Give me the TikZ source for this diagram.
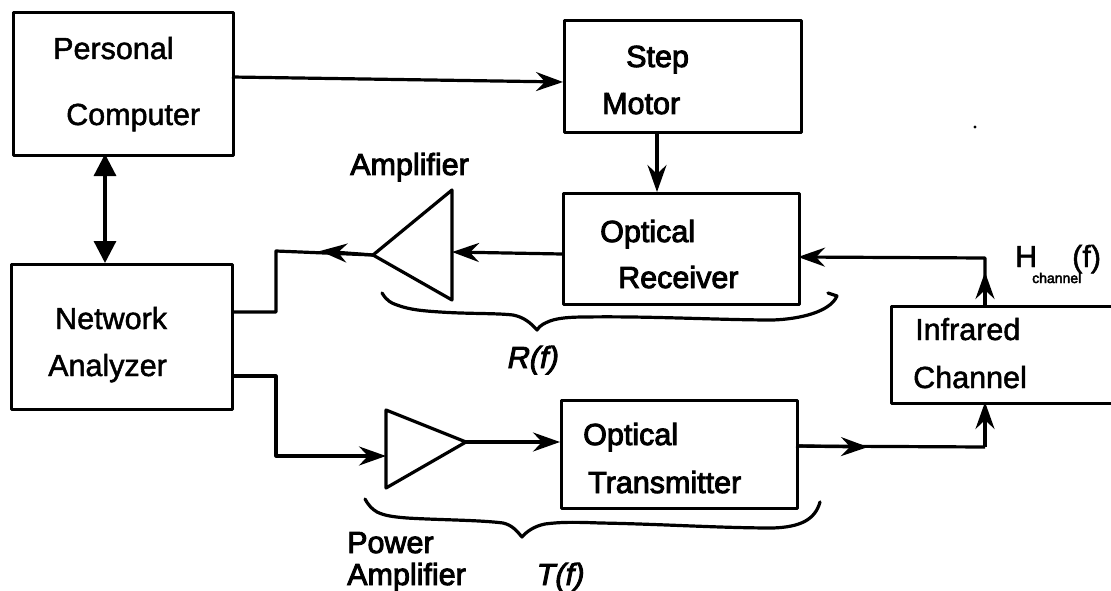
\documentclass[tikz,border=0pt]{standalone}
\usepackage{fontspec}
\setmainfont{Liberation Sans}
\newfontfamily\inkfont[FakeBold=1.6]{Liberation Sans}
\newfontfamily\heavyfont[FakeBold=3]{Liberation Sans}
\newfontfamily\inkital[FakeBold=3,FakeSlant=0.2]{Liberation Sans}
\usetikzlibrary{arrows.meta,positioning}
\tikzset{
  ink/.style={line width=3.2pt,black,line join=round},
  blk/.style={ink,draw,rectangle,inner sep=0pt,anchor=north west},
  lbl/.style={inner sep=0pt,font=\inkfont\fontsize{30.5}{32}\selectfont,anchor=base west},
  hlbl/.style={inner sep=0pt,font=\heavyfont\fontsize{30.5}{32}\selectfont,anchor=base west},
  ilbl/.style={inner sep=0pt,font=\inkital\fontsize{30.5}{32}\selectfont,anchor=base west},
  tip/.style={-{Stealth[length=27pt,width=19pt,inset=9pt]}},
  dbl/.style={{Stealth[length=22pt,width=22pt,inset=0pt]}-{Stealth[length=22pt,width=22pt,inset=0pt]}},
}
\begin{document}
\begin{tikzpicture}[x=1pt,y=-1pt]
\useasboundingbox (0,0) rectangle (1111,591);
% blocks
\node[blk,minimum width=220pt,minimum height=143pt] (pc) at (12,11) {};
\node[blk,minimum width=221pt,minimum height=145pt] (na) at (10,263) {};
\node[blk,minimum width=237pt,minimum height=112pt] (sm) at (563,19) {};
\node[blk,minimum width=236pt,minimum height=111pt] (rx) at (562,192) {};
\node[blk,minimum width=236pt,minimum height=108pt] (tx) at (560,399) {};
\node[blk,minimum width=225pt,minimum height=97pt] (ir) at (890,305) {};
% amplifier triangles
\coordinate (aL) at (373,255); \coordinate (aT) at (452,190); \coordinate (aB) at (452,300);
\coordinate (aIn) at (452,252);
\draw[ink] (aL) -- (aT) -- (aB) -- cycle;
\coordinate (pL) at (386,410); \coordinate (pB) at (386,488); \coordinate (pR) at (466,442);
\coordinate (pIn) at (386,456);
\draw[ink] (pL) -- (pR) -- (pB) -- cycle;
% connectors
\coordinate (pcOut) at (232,77); \coordinate (smIn) at (563,82);
\draw[ink,tip] (pcOut) -- (smIn);
\draw[ink,tip] (657,131) -- (657,192);
\draw[ink,dbl] (105,154) -- (105,263);
\coordinate (rxOut) at (562,254);
\draw[ink,tip] (rxOut) -- (aIn);
\coordinate (m1) at (320,251); \coordinate (c1) at (276,251); \coordinate (naA) at (231,312);
\draw[ink,tip] (aL) -- (m1);
\draw[ink] (aL) -- (c1) -- (c1 |- naA) -- (naA);
\coordinate (naB) at (231,376); \coordinate (c2) at (276,376);
\draw[ink,tip] (naB) -- (c2) -- (c2 |- pIn) -- (pIn);
\coordinate (txIn) at (560,442);
\draw[ink,tip] (pR) -- (txIn);
\coordinate (txOut) at (796,446); \coordinate (m2) at (868,447); \coordinate (c3) at (985,447); \coordinate (irB) at (985,402);
\draw[ink,tip] (txOut) -- (m2);
\draw[ink] (txOut) -- (c3);
\draw[ink,tip] (c3) -- (irB);
\coordinate (irT) at (985,305); \coordinate (m3) at (985,272); \coordinate (c4) at (985,258); \coordinate (rxIn) at (798,257);
\draw[ink,tip] (irT) -- (m3);
\draw[ink,tip] (irT) -- (c4) -- (rxIn);
% braces
\draw[ink,line cap=round] (382,293) .. controls (387,301) and (391,303) .. (397,305)
  .. controls (410,310) and (425,311) .. (440,312)
  .. controls (470,314) and (495,313) .. (513,315) .. controls (523,317) and (530,322) .. (537,330)
  .. controls (540,325) and (545,323) .. (550,321) .. controls (558,318) and (570,317) .. (585,317)
  .. controls (650,316) and (720,320) .. (773,320)
  .. controls (800,319) and (830,312) .. (837,296) -- (828,293);
\draw[ink,line cap=round] (365,499) .. controls (369,506) and (372,509) .. (377,512)
  .. controls (385,516) and (395,517) .. (407,518)
  .. controls (440,520) and (480,520) .. (503,523) .. controls (512,525) and (517,531) .. (522,537)
  .. controls (527,531) and (535,526) .. (545,524) .. controls (560,522) and (575,522) .. (600,523)
  .. controls (660,524) and (720,528) .. (773,528)
  .. controls (800,527) and (815,520) .. (820,502);
% labels
\node[lbl] (t1) at (53,59) {Personal};
\node[lbl] (t2) at (66,125) {Computer};
\node[hlbl] (t3) at (626,67) {Step};
\node[hlbl] (t4) at (602,114) {Motor};
\node[hlbl] (t5) at (350,175) {Amplifier};
\node[hlbl] (t6) at (600,242) {Optical};
\node[hlbl] (t7) at (618,288) {Receiver};
\node[lbl] (t8) at (55,329) {Network};
\node[lbl] (t9) at (48,376) {Analyzer};
\node[hlbl] (t10) at (583,445) {Optical};
\node[hlbl] (t11) at (588,493) {Transmitter};
\node[hlbl] (t12) at (347,553) {Power};
\node[hlbl] (t13) at (347,585) {Amplifier};
\node[ilbl] (t14) at (506,368) {R(f)};
\node[ilbl] (t15) at (535,585) {T(f)};
\node[lbl] (t16) at (915,340) {Infrared};
\node[lbl] (t17) at (913,388) {Channel};
\node[lbl] (t18) at (1015,267) {H};
\node[inner sep=0pt,anchor=base west,font=\heavyfont\fontsize{14}{15}\selectfont] (t19) at (1032,283) {channel};
\node[lbl] (t20) at (1072,267) {(f)};
\fill (975,127) circle (1.6pt);
\end{tikzpicture}
\end{document}
